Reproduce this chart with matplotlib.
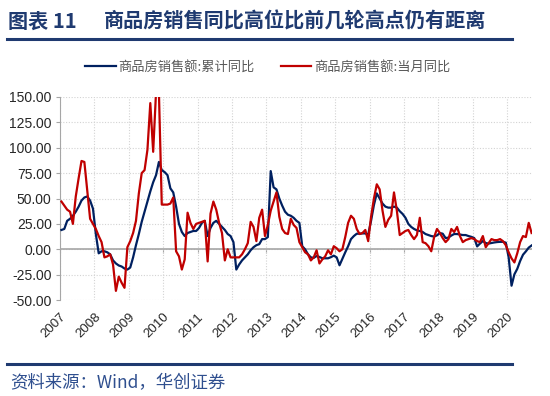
import numpy as np
import matplotlib.pyplot as plt
from matplotlib.lines import Line2D
from matplotlib.transforms import ScaledTranslation

plt.rcParams['font.family'] = ['Noto Sans CJK SC', 'DejaVu Sans']

# monthly data, 2007-01 .. 2020-09
start_year = 2007
cum_yoy = [
    19, 20, 28, 30, 33, 37, 42, 48, 51, 52, 48, 40,            # 2007
    15, -4, -2, -2, -3, -5, -11, -14, -16, -17, -19, -20,      # 2008
    -18, -8, 4, 15, 27, 37, 47, 57, 66, 73, 86, 78,            # 2009
    76, 73, 60, 56, 42, 25, 17, 13, 16, 17, 18, 18,            # 2010
    21, 26, 28, 13, 21, 26, 28, 25, 22, 19, 15, 13,            # 2011
    7, -20, -15, -11, -8, -5, -1, 2, 4, 5, 10, 10,             # 2012
    12, 77, 61, 59, 50, 43, 37, 34, 33, 31, 28, 26,            # 2013
    3, -0.1, -5, -8, -8.5, -6.7, -7.6, -8.9, -8.9, -8.9, -7.8, -6.3,  # 2014
    -8, -15.8, -9.3, -3, 3, 10, 13, 15.3, 15.3, 15.6, 15.6, 14.4,     # 2015
    28, 43.6, 55, 50, 45, 42, 41, 41, 42, 41, 37.5, 34.8,      # 2016
    31, 25, 22, 20, 18.6, 18, 17, 15, 14, 13, 12.5, 13.7,      # 2017
    16, 15.3, 11, 11.5, 13.5, 15, 15, 14.5, 14, 14, 13, 12.2,  # 2018
    11, 2.8, 5.6, 8.1, 6.1, 5.6, 6.2, 6.7, 7.1, 7.3, 7.3, 6.5, # 2019
    -8, -35.9, -24.7, -19.3, -11.6, -5.4, -2.1, 1.6, 3.7,      # 2020
]
month_yoy = [
    47, 43, 39, 37, 25, 52, 70, 87, 86, 58, 30, 25,            # 2007
    20, 13, 7, -8, -7, -5, -15, -41, -27, -33, -38, 2,         # 2008
    8, 16, 28, 55, 75, 78, 98, 144, 96, 155, 155, 44,          # 2009
    44, 44, 45, 51, -2, -7, -20, -10, 36, 26, 20, 25,          # 2010
    26, 27, 28, -12, 35, 47, 39, 26, 16, -11, 0, -8,           # 2011
    -8, -8, -8, -5, 0, 6, 27, 22, 8, 31, 39, 13,               # 2012
    24, 38, 47, 56, 32, 20, 16, 15, 30, 24, 21, 7,             # 2013
    2, -3, -5, -11, -8, -1, -14, -10, -7, -1, -5, 3,           # 2014
    1, -2, 0, 12, 26, 33, 30, 20, 15, 16, 19, 8,               # 2015
    32, 50, 64, 59, 38, 22, 29, 33, 56, 38, 14, 16,            # 2016
    18, 19, 14, 10, 14, 31, 7, 6, 3, -2, 12, 20,               # 2017
    16, 11, 7, 10, 20, 17, 22, 13, 7, 9, 10, 11,               # 2018
    10, 8, 7, 13, 2, 6, 10, 9, 9, 10, 8, 4,                    # 2019
    -3, -9, -13, -4, 7, 13, 12, 26, 16,                        # 2020
]
year_ticks = list(range(2007, 2021))
y_ticks = [-50, -25, 0, 25, 50, 75, 100, 125, 150]
labels = ['商品房销售额:累计同比', '商品房销售额:当月同比']

navy = '#1F3A70'
grey = '#A6A6A6'

x = start_year + (np.arange(len(cum_yoy)) + 0.5) / 12.0

fig = plt.figure(figsize=(5.5, 3.96), dpi=100)
ax = fig.add_axes([60/550, 1-300/396, 472/550, 203/396])

ax.plot(x, cum_yoy, color='#002060', lw=1.6, label=labels[0], zorder=3)
ax.plot(x, month_yoy, color='#C00000', lw=1.6, label=labels[1], zorder=3)

ax.set_xlim(2007, 2020.72)
ax.set_ylim(-50, 150)
ax.set_yticks(y_ticks)
ax.set_yticklabels(['%.2f' % v for v in y_ticks], fontsize=10,
                   family=['Liberation Sans'], color='#262626')
ax.set_xticks(year_ticks)
ax.set_xticklabels([str(y) for y in year_ticks], rotation=45, ha='right',
                   rotation_mode='anchor', fontsize=9.5,
                   family=['Liberation Sans'], color='#262626')
off = ScaledTranslation(4/72, 0, fig.dpi_scale_trans)
for lab in ax.get_xticklabels():
    lab.set_transform(lab.get_transform() + off)
ax.tick_params(axis='x', length=0, pad=8)
ax.tick_params(axis='y', length=3, color=grey, pad=3)

ax.grid(True, color='#D3D3D3', linestyle=(0, (1, 1.5)), lw=0.8)
ax.set_axisbelow(True)
for s in ['top', 'right', 'bottom']:
    ax.spines[s].set_visible(False)
ax.spines['left'].set_color(grey)

# zero line with small year ticks
ax.axhline(0, color=grey, lw=1.2, zorder=2)
sec = ax.secondary_xaxis(0.25)
sec.set_xticks(year_ticks)
sec.tick_params(labelbottom=False, length=3, color=grey, direction='out')
sec.spines['bottom'].set_visible(False)

fig.legend(loc='center', bbox_to_anchor=(0.487, 1-67/396), ncol=2,
           frameon=False, fontsize=9.5, handlelength=2.3, handletextpad=0.2,
           columnspacing=2.0, labelcolor='#595959')

fig.text(8/550, 1-21/396, '图表 11', fontsize=14.5, fontweight='bold',
         color=navy, va='center')
fig.text(104/550, 1-21/396, '商品房销售同比高位比前几轮高点仍有距离',
         fontsize=14.5, fontweight='bold', color=navy, va='center')
fig.add_artist(Line2D([7/550, 512/550], [1-38.5/396]*2, color=navy, lw=2.2))
fig.add_artist(Line2D([7/550, 512/550], [1-364/396]*2, color=navy, lw=2.2))
fig.text(10/550, 1-383/396, '资料来源：Wind，华创证券', fontsize=12.5,
         color='#2F4F8F', va='center', style='italic')

fig.savefig('out.png', dpi=100)
